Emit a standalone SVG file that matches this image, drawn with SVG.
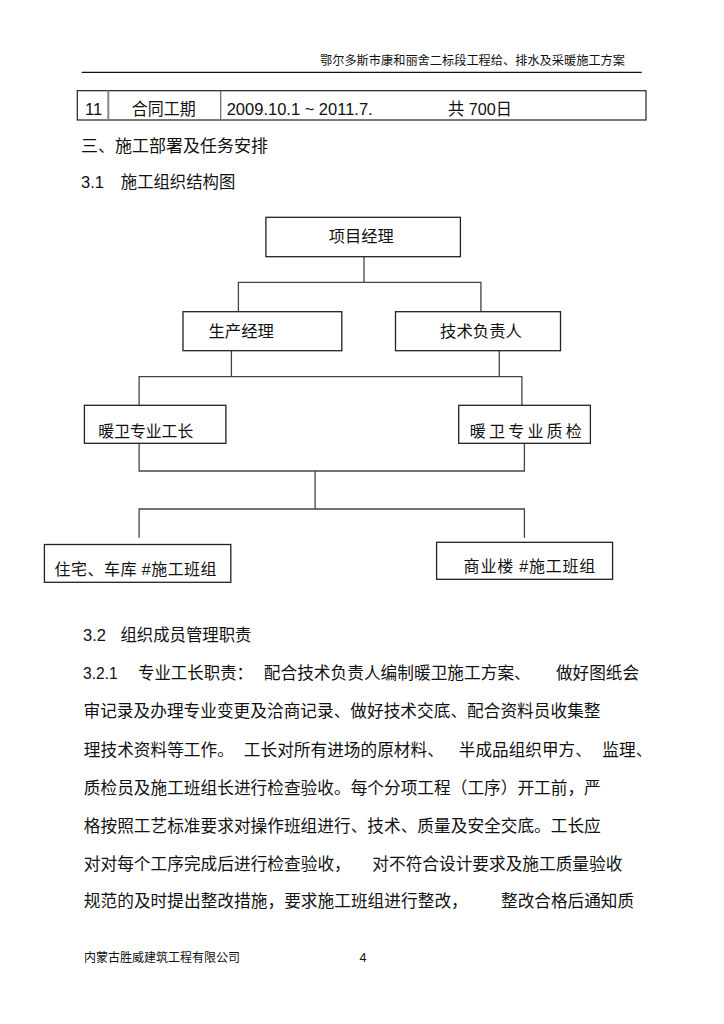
<svg xmlns="http://www.w3.org/2000/svg" width="724" height="1024" viewBox="0 0 724 1024">
<style>
text{font-family:"Liberation Sans","Noto Sans CJK SC",sans-serif;fill:#111;}
.b{font-size:16.5px;}
.n{font-size:16px;}
.s{font-size:12.5px;}
.box{fill:#fff;stroke:#222;stroke-width:1.3;}
.ln{fill:none;stroke:#444;stroke-width:1.3;}
</style>
<rect width="724" height="1024" fill="#fff"/>
<!-- page header -->
<text class="s" x="320" y="65" textLength="305" lengthAdjust="spacingAndGlyphs">鄂尔多斯市康和丽舍二标段工程给、排水及采暖施工方案</text>
<line x1="81.7" y1="72.3" x2="641.7" y2="72.3" stroke="#111" stroke-width="1.2"/>
<!-- table row -->
<g id="table">
<rect x="77.3" y="90.7" width="568.7" height="29.3" fill="none" stroke="#222" stroke-width="1.2"/>
<line x1="108.3" y1="90.7" x2="108.3" y2="120" stroke="#888" stroke-width="2"/>
<line x1="220.7" y1="90.7" x2="220.7" y2="120" stroke="#666" stroke-width="1.2"/>
<text class="b" x="85" y="115">11</text>
<text class="b" x="131.7" y="115" textLength="64" lengthAdjust="spacingAndGlyphs">合同工期</text>
<text class="b" x="226.7" y="115" textLength="146" lengthAdjust="spacingAndGlyphs">2009.10.1 ~ 2011.7.</text>
<text class="b" x="448" y="115" textLength="64" lengthAdjust="spacingAndGlyphs">共 700日</text>
</g>
<text class="b" x="81" y="151.7" textLength="187" lengthAdjust="spacingAndGlyphs">三、施工部署及任务安排</text>
<text class="b" x="81" y="188.3">3.1</text>
<text class="b" x="120.8" y="188.3" textLength="114.5" lengthAdjust="spacingAndGlyphs">施工组织结构图</text>
<!-- connectors -->
<g id="connectors">
<polyline class="ln" points="364,256.7 364,282.3"/>
<polyline class="ln" points="238.4,311.7 238.4,282.3 480.9,282.3 480.9,311.7"/>
<polyline class="ln" points="231.4,350.7 231.4,376.7"/>
<polyline class="ln" points="499.3,350.7 499.3,376.7"/>
<polyline class="ln" points="139.1,405.7 139.1,376.7 521.9,376.7 521.9,405.7"/>
<polyline class="ln" points="139.1,443.3 139.1,471 524.4,471 524.4,443.3"/>
<polyline class="ln" points="315.1,471 315.1,509"/>
<polyline class="ln" points="139.1,537.7 139.1,509 524.4,509 524.4,537.7"/>
</g>
<!-- nodes -->
<g id="n1">
<rect class="box" x="265.9" y="217.3" width="194.5" height="39.4"/>
<text class="n" x="328.7" y="242" textLength="65" lengthAdjust="spacingAndGlyphs">项目经理</text>
</g>
<g id="n2">
<rect class="box" x="183" y="311.7" width="158.8" height="39"/>
<text class="n" x="208.5" y="336.7" textLength="65.5" lengthAdjust="spacingAndGlyphs">生产经理</text>
</g>
<g id="n3">
<rect class="box" x="395.5" y="311.7" width="165" height="39"/>
<text class="n" x="440" y="336.7" textLength="82" lengthAdjust="spacingAndGlyphs">技术负责人</text>
</g>
<g id="n4">
<rect class="box" x="84.4" y="405.3" width="141.5" height="38"/>
<text class="n" x="98.3" y="436.5" textLength="95" lengthAdjust="spacingAndGlyphs">暖卫专业工长</text>
</g>
<g id="n5">
<rect class="box" x="458.7" y="405.3" width="131.7" height="38"/>
<text class="n" x="469.8" y="436.5" textLength="112" lengthAdjust="spacing">暖卫专业质检</text>
</g>
<g id="n6">
<rect class="box" x="44.4" y="544.5" width="186.4" height="37.8"/>
<text class="n" x="54.6" y="575" textLength="162" lengthAdjust="spacing">住宅、车库 #施工班组</text>
</g>
<g id="n7">
<rect class="box" x="436.6" y="542.3" width="176" height="37"/>
<text class="n" x="463.6" y="571.5" textLength="131.7" lengthAdjust="spacing">商业楼 #施工班组</text>
</g>
<!-- body text -->
<text class="b" x="83" y="640.7">3.2</text>
<text class="b" x="120.4" y="640.7" textLength="131" lengthAdjust="spacingAndGlyphs">组织成员管理职责</text>
<text class="b" x="83" y="679.3" textLength="34.7" lengthAdjust="spacingAndGlyphs">3.2.1</text>
<text class="b" x="138" y="679.3" textLength="115" lengthAdjust="spacingAndGlyphs">专业工长职责：</text>
<text class="b" x="263.8" y="679.3" textLength="267" lengthAdjust="spacingAndGlyphs">配合技术负责人编制暖卫施工方案、</text>
<text class="b" x="556" y="679.3" textLength="83" lengthAdjust="spacingAndGlyphs">做好图纸会</text>
<text class="b" x="83.5" y="717.3" textLength="517" lengthAdjust="spacingAndGlyphs">审记录及办理专业变更及洽商记录、做好技术交底、配合资料员收集整</text>
<text class="b" x="83.8" y="755.7" textLength="150" lengthAdjust="spacingAndGlyphs">理技术资料等工作。</text>
<text class="b" x="243.8" y="755.7" textLength="200" lengthAdjust="spacingAndGlyphs">工长对所有进场的原材料、</text>
<text class="b" x="458.8" y="755.7" textLength="133" lengthAdjust="spacingAndGlyphs">半成品组织甲方、</text>
<text class="b" x="602.3" y="755.7" textLength="50" lengthAdjust="spacingAndGlyphs">监理、</text>
<text class="b" x="83.8" y="794" textLength="517" lengthAdjust="spacingAndGlyphs">质检员及施工班组长进行检查验收。每个分项工程（工序）开工前，严</text>
<text class="b" x="83.8" y="832" textLength="517" lengthAdjust="spacingAndGlyphs">格按照工艺标准要求对操作班组进行、技术、质量及安全交底。工长应</text>
<text class="b" x="83.8" y="870" textLength="267" lengthAdjust="spacingAndGlyphs">对对每个工序完成后进行检查验收，</text>
<text class="b" x="372.3" y="870" textLength="250" lengthAdjust="spacingAndGlyphs">对不符合设计要求及施工质量验收</text>
<text class="b" x="83.8" y="907" textLength="384" lengthAdjust="spacingAndGlyphs">规范的及时提出整改措施，要求施工班组进行整改，</text>
<text class="b" x="501" y="907" textLength="133" lengthAdjust="spacingAndGlyphs">整改合格后通知质</text>
<!-- footer -->
<text class="s" x="84" y="961.7" textLength="156" lengthAdjust="spacingAndGlyphs">内蒙古胜威建筑工程有限公司</text>
<text class="s" x="359.5" y="961.7">4</text>
</svg>
